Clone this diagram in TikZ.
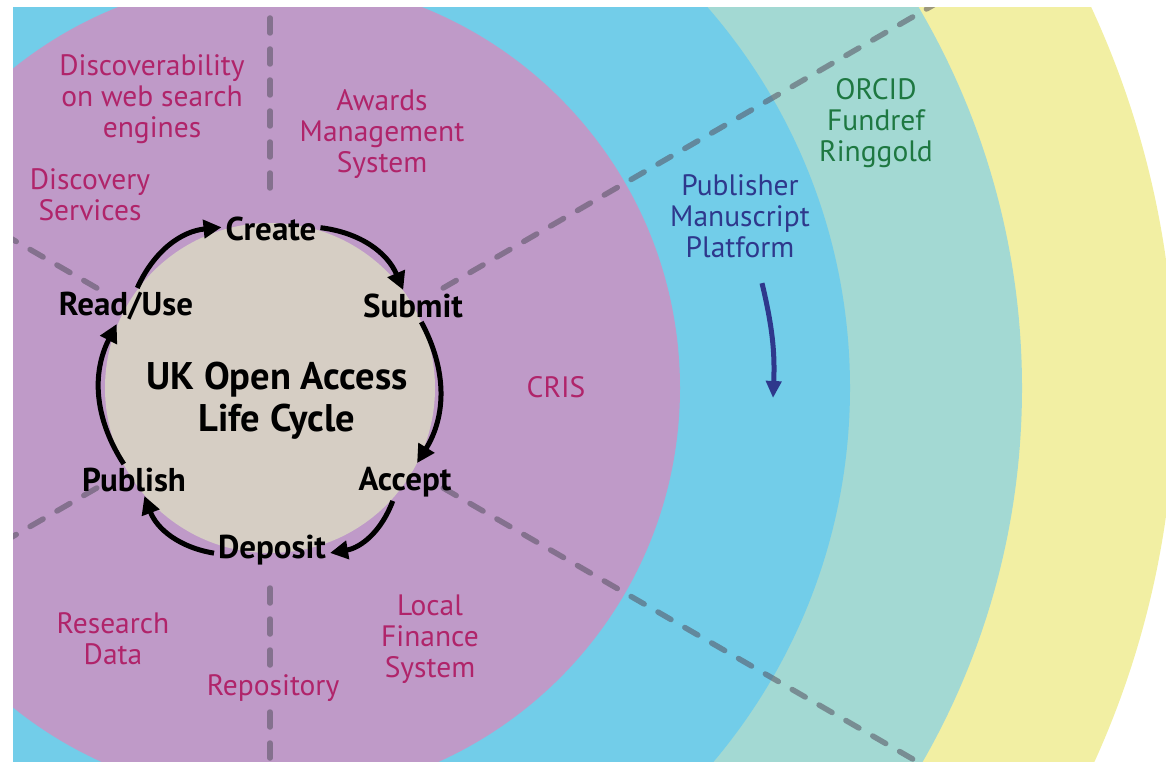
\documentclass[tikz,border=0pt]{standalone}
\usepackage{fontspec}
\setmainfont{PT Sans}
\usetikzlibrary{arrows.meta,positioning}

\definecolor{ringyellow}{RGB}{242,239,163}
\definecolor{ringteal}{RGB}{163,217,211}
\definecolor{ringblue}{RGB}{114,205,233}
\definecolor{ringpurple}{RGB}{191,154,200}
\definecolor{hubbeige}{RGB}{214,206,196}
\definecolor{sysred}{RGB}{176,36,106}
\definecolor{pubblue}{RGB}{46,56,140}
\definecolor{idgreen}{RGB}{30,120,65}
\definecolor{spokegray}{RGB}{85,80,95}

\begin{document}
\begin{tikzpicture}[x=1pt, y=-1pt,
    stage/.style={font=\fontsize{33}{36}\selectfont\bfseries, inner sep=0pt, outer sep=4pt},
    system/.style={font=\fontsize{29.5}{31}\selectfont, text=sysred, align=center},
    cyc/.style={-{Triangle[length=18pt,width=18pt]}, line width=5pt, bend left=30},
    spoke/.style={draw=spokegray, draw opacity=0.55, line width=5.5pt, line cap=round, dash pattern=on 15pt off 16pt}]
  \useasboundingbox (0,0) rectangle (1166,762);
  \coordinate (hub) at (270,388);
  \begin{scope}
    \clip (13,8) rectangle (1166,762);
    \fill[ringyellow] (hub) circle[radius=905pt];
    \fill[ringteal] (hub) circle[radius=752pt];
    \fill[ringblue] (hub) circle[radius=580pt];
    \fill[ringpurple] (hub) circle[radius=410pt];
    \foreach \a in {30,90,...,330}
      \draw[spoke] (hub) ++(\a:200) -- ++(\a:700);
  \end{scope}
  \node[circle, fill=hubbeige, minimum size=330pt, inner sep=0pt] (core) at (hub) {};
  \node[font=\fontsize{38.5}{42}\selectfont\bfseries, align=center] (title) at (277,401) {UK Open Access\\Life Cycle};

  \node[stage] (create) at (271,229) {Create};
  \node[stage] (submit) at (413,306) {Submit};
  \node[stage] (accept) at (405,482) {Accept};
  \node[stage] (deposit) at (272,550) {Deposit};
  \node[stage] (publish) at (134,480) {Publish};
  \node[stage] (readuse) at (126,306) {Read/Use};

  \draw[cyc] (create) to (submit);
  \draw[cyc] (submit) to (accept);
  \draw[cyc] (accept) to (deposit);
  \draw[cyc] (deposit) to (publish);
  \draw[cyc] (publish) to (readuse);
  \draw[cyc] (readuse) to (create);

  \node[system] (discover) at (152,99) {Discoverability\\on web search\\engines};
  \node[system] (awards) at (382,134) {Awards\\Management\\System};
  \node[system] (services) at (90,195) {Discovery\\Services};
  \node[system] (cris) at (556,387) {CRIS};
  \node[system] (resdata) at (113,639) {Research\\Data};
  \node[system, fill=ringpurple, inner sep=2pt] (repo) at (273,688) {Repository};
  \node[system] (finance) at (430,639) {Local\\Finance\\System};
  \node[system, text=pubblue] (publisher) at (740,216) {Publisher\\Manuscript\\Platform};
  \node[system, text=idgreen] (ids) at (876,123) {ORCID\\Fundref\\Ringgold};

  \coordinate (pubtip) at (773,398);
  \draw[pubblue, line width=5pt, -{Triangle[length=17pt,width=15pt]}]
    ([xshift=22pt,yshift=-22pt]publisher.south) to[bend left=8] (pubtip);
\end{tikzpicture}
\end{document}
